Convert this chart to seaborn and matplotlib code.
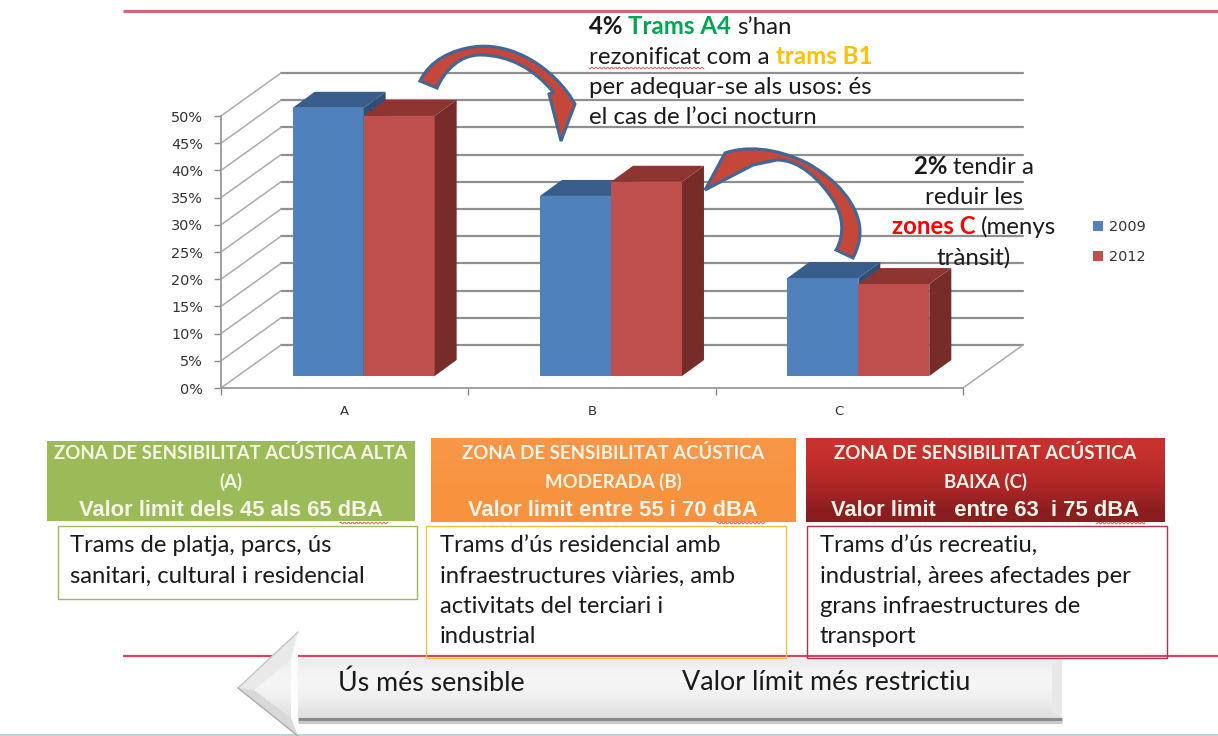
import numpy as np
import pandas as pd
import matplotlib
matplotlib.use('Agg')
import matplotlib.pyplot as plt
import matplotlib.transforms as mtransforms
from matplotlib.patches import Polygon, PathPatch, Rectangle
from matplotlib.path import Path
import seaborn as sns

# dades
zones = ['A', 'B', 'C']
anys = ['2009', '2012']
valors_2009 = [49.3, 33.1, 18.0]
valors_2012 = [47.8, 35.7, 16.9]
ticks_y = [0, 5, 10, 15, 20, 25, 30, 35, 40, 45, 50]

colors_front = ['#4F81BD', '#C0504D']
colors_top = ['#385D8A', '#8E3532']
colors_side = ['#2F4F78', '#772C2A']

W, H = 1218, 736
DPI = 100

sns.set_style('white')
plt.rcParams['font.family'] = ['Lato', 'DejaVu Sans']

fig = plt.figure(figsize=(W / DPI, H / DPI), dpi=DPI, facecolor='white')


def axes_px(x0, y_top, x1, y_bottom):
    return fig.add_axes([x0 / W, 1 - y_bottom / H, (x1 - x0) / W, (y_bottom - y_top) / H])


# =========================
# eixos frontals i parets
# =========================
ax_f = axes_px(221, 116, 963, 388)
ax_f.set_zorder(1)
ax_f.patch.set_alpha(0)
ax_f.set_xlim(-0.5, 2.5)
ax_f.set_ylim(0, 50)
ax_f.set_yticks(ticks_y)
ax_f.set_yticklabels([f'{t}%' for t in ticks_y], family='DejaVu Sans', fontsize=10.4, color='#333333')
ax_f.set_xticks(range(3))
ax_f.set_xticklabels(zones, family='DejaVu Sans', fontsize=9.5, color='#333333')
ax_f.set_xticks([-0.5, 0.5, 1.5, 2.5], minor=True)
ax_f.tick_params(axis='x', which='major', length=0, pad=12)
ax_f.tick_params(axis='x', which='minor', length=5, color='#868686', width=1, bottom=True)
ax_f.tick_params(axis='y', length=5, color='#868686', width=1, left=True, pad=8)
for s in ['top', 'right']:
    ax_f.spines[s].set_visible(False)
for s in ['left', 'bottom']:
    ax_f.spines[s].set_color('#999999')
    ax_f.spines[s].set_linewidth(1.3)

back = mtransforms.offset_copy(ax_f.transData, fig, x=60, y=43, units='dots')
for t in ticks_y:
    ax_f.plot([-0.5, 2.5], [t, t], transform=back, color='#8F8F8F', lw=1.6, clip_on=False)
    # linies de la paret esquerra
    x0, y0 = ax_f.transData.transform((-0.5, t))
    ax_f.plot([x0, x0 + 60], [y0, y0 + 43], transform=mtransforms.IdentityTransform(),
              color='#ABABAB', lw=1.1, clip_on=False)
x0, y0 = ax_f.transData.transform((2.5, 0))
ax_f.plot([x0, x0 + 60], [y0, y0 + 43], transform=mtransforms.IdentityTransform(),
          color='#ABABAB', lw=1.1, clip_on=False)

# =========================
# barres
# =========================
ax = axes_px(240, 104, 982, 376)
ax.set_zorder(2)
ax.patch.set_alpha(0)

df = pd.DataFrame({
    'zona': zones * 2,
    'any': [anys[0]] * 3 + [anys[1]] * 3,
    'valor': valors_2009 + valors_2012,
})
sns.barplot(data=df, x='zona', y='valor', hue='any', palette=colors_front, width=0.574,
            gap=0, saturation=1, linewidth=0, ax=ax)
ax.set_xlim(-0.5, 2.5)
ax.set_ylim(0, 50)
ax.set_xlabel('')
ax.set_ylabel('')
ax.axis('off')

DX, DY = 22, 16
for i, cont in enumerate(ax.containers):
    for bar in cont:
        bar.set_zorder(3 + i)
        (xa, ya), (xb, yb) = ax.transData.transform([(bar.get_x(), 0),
                                                     (bar.get_x() + bar.get_width(), bar.get_height())])
        side = [(xb, ya), (xb + DX, ya + DY), (xb + DX, yb + DY), (xb, yb)]
        top = [(xa, yb), (xa + DX, yb + DY), (xb + DX, yb + DY), (xb, yb)]
        ax.add_patch(Polygon(side, closed=True, fc=colors_side[i], ec='none', clip_on=False,
                             transform=mtransforms.IdentityTransform(), zorder=3 + i))
        ax.add_patch(Polygon(top, closed=True, fc=colors_top[i], ec='none', clip_on=False,
                             transform=mtransforms.IdentityTransform(), zorder=3 + i))

sns.move_legend(ax, loc='upper left', bbox_to_anchor=(1080 / W, 1 - 207 / H),
                bbox_transform=fig.transFigure, frameon=False, title=None,
                handlelength=0.7, handleheight=0.7, handletextpad=0.42, labelspacing=1.1,
                prop={'family': 'DejaVu Sans', 'size': 10.4})
for txt in ax.get_legend().get_texts():
    txt.set_color('#333333')

# =========================
# capa de dibuix en pixels
# =========================
ov = fig.add_axes([0, 0, 1, 1])
ov.set_zorder(3)
ov.patch.set_alpha(0)

# linies roses
ov.plot([123, 1218], [11, 11], color='#DD6079', lw=2.2, solid_capstyle='butt')
ov.plot([123, 1218], [656, 656], color='#E2405F', lw=1.6, solid_capstyle='butt', zorder=1)
ov.plot([0, 1218], [735, 735], color='#BDD3D8', lw=1.5, zorder=1)

# fletxes corbes
M, L, C = Path.MOVETO, Path.LINETO, Path.CURVE4
fl1 = Path(
    [(420, 81), (430, 60), (452, 50), (473, 47),
     (505, 42), (545, 60), (570, 96),
     (575, 104), (561, 141), (549, 94), (553, 92),
     (535, 70), (510, 55), (480, 55),
     (460, 55), (445, 70), (437, 88), (420, 81)],
    [M, C, C, C, C, C, C, L, L, L, L, C, C, C, C, C, C, Path.CLOSEPOLY])
fl2 = Path(
    [(705, 190), (725, 153),
     (745, 146), (775, 147), (807, 163),
     (835, 178), (860, 205), (860, 232),
     (860, 242), (857, 250), (853, 258),
     (836, 250),
     (845, 235), (843, 215), (833, 200),
     (820, 180), (800, 160), (777, 160),
     (753, 165), (705, 190)],
    [M, L, C, C, C, C, C, C, C, C, C, L, C, C, C, C, C, C, L, Path.CLOSEPOLY])
for fl in [fl1, fl2]:
    ov.add_patch(PathPatch(fl, fc='#C4473A', ec='#3F6797', lw=2.2, joinstyle='miter', zorder=5))


def ramp(colors, extent, clip=None, zorder=2):
    vals = np.array([matplotlib.colors.to_rgb(c) for c in colors])[:, None, :]
    im = ov.imshow(vals, extent=extent, aspect='auto', interpolation='bilinear', zorder=zorder)
    if clip is not None:
        im.set_clip_path(clip)
    return im


# capcaleres
ov.add_patch(Rectangle((47, 441), 368, 80, fc='#9BBB59', ec='none', zorder=2))
ramp(['#F79646', '#F8923E'], (431, 796, 522, 438))
ramp(['#C8322E', '#BC2C2A', '#A82526', '#8A1E20'], (806, 1165, 522, 438))

capcaleres = [
    (231, ['ZONA DE SENSIBILITAT ACÚSTICA ALTA', '(A)', 'Valor limit dels 45 als 65 dBA']),
    (613, ['ZONA DE SENSIBILITAT ACÚSTICA', 'MODERADA (B)', 'Valor limit entre 55 i 70 dBA']),
    (985, ['ZONA DE SENSIBILITAT ACÚSTICA', 'BAIXA (C)', 'Valor limit   entre 63  i 75 dBA']),
]
for xc, (l1, l2, l3) in capcaleres:
    col = '#F7F5EA'
    ov.text(xc, 453, l1, ha='center', va='center', color=col, fontsize=13.4, fontweight='bold', zorder=6)
    ov.text(xc, 482, l2, ha='center', va='center', color=col, fontsize=13.4, fontweight='bold', zorder=6)
    ov.text(xc, 511, l3, ha='center', va='center', color=col, fontsize=15.8, fontweight='bold',
            family='Liberation Sans', zorder=6)

# caixes de text
ov.add_patch(Rectangle((58, 526), 359, 73, fc='none', ec='#9BBB59', lw=1.0, zorder=2))
ov.add_patch(Rectangle((426, 526), 360, 132, fc='none', ec='#EFC33C', lw=1.0, zorder=2))
ov.add_patch(Rectangle((807, 526), 360, 132, fc='none', ec='#B5304B', lw=1.0, zorder=3))

cos = [
    (70, ['Trams de platja, parcs, ús', 'sanitari, cultural i residencial']),
    (440, ['Trams d’ús residencial amb', 'infraestructures viàries, amb', 'activitats del terciari i', 'industrial']),
    (820, ['Trams d’ús recreatiu,', 'industrial, àrees afectades per', 'grans infraestructures de', 'transport']),
]
for xt, linies in cos:
    for k, lin in enumerate(linies):
        ov.text(xt, 546 + 30.3 * k, lin, ha='left', va='center', color='#1A1A1A', fontsize=17.2, zorder=6)

# fletxa gran
forma = [(238, 688), (298, 632), (298, 659), (1062, 659), (1062, 718), (298, 718), (298, 736)]
for_fl = Polygon(forma, closed=True, fc='none', ec='none', transform=ov.transData, zorder=1)
ov.add_patch(for_fl)
ramp(['#E4E4E4', '#E8E8E8', '#F2F2F2', '#F6F6F6', '#EFEFEF', '#E2E2E2', '#D4D4D4'], (230, 1065, 736, 632),
     clip=for_fl, zorder=1.5)
ov.add_patch(Polygon([(1052, 665), (1062, 659), (1062, 718), (1052, 712)], closed=True,
                     fc='#E8E8E8', ec='none', zorder=1.6))
# biaix del cap de la fletxa
ov.add_patch(Polygon([(238, 688), (298, 632), (298, 659), (291, 659), (254, 690)], closed=True,
                     fc='#E9E9E9', ec='none', zorder=1.6))
ov.add_patch(Polygon([(238, 688), (298, 736), (298, 722), (291, 718), (254, 690)], closed=True,
                     fc='#D9D9D9', ec='none', zorder=1.6))
ov.add_patch(Polygon([(291, 659), (298, 632), (298, 736), (291, 718)], closed=True,
                     fc='#FCFCFC', ec='none', zorder=1.6))
ov.plot([238, 298], [688, 632], color='#C4C4C4', lw=1.0, zorder=1.7)
ov.plot([238, 298], [688, 736], color='#ABABAB', lw=1.0, zorder=1.7)
ov.plot([298, 1062], [719, 719], color='#8A8A8A', lw=2.2, zorder=1.7, solid_capstyle='butt')
ov.plot([298, 1062], [722, 722], color='#C8C8C8', lw=2.2, zorder=1.7, solid_capstyle='butt')
ov.text(338, 683, 'Ús més sensible', ha='left', va='center', color='#1A1A1A', fontsize=19.3, zorder=6)
ov.text(682, 683, 'Valor límit més restrictiu', ha='left', va='center', color='#1A1A1A', fontsize=19.4, zorder=6)

ov.set_xlim(0, W)
ov.set_ylim(H, 0)
ov.axis('off')

# text amb colors
rend = fig.canvas.get_renderer()


def text_colors(x, y, trossos, centrat=False, mida=17.3):
    arts = [ov.text(0, y, t, color=c, fontweight=w, fontsize=mida, va='center', ha='left', zorder=6)
            for t, c, w in trossos]
    ample = [a.get_window_extent(rend).width for a in arts]
    px = x - sum(ample) / 2 if centrat else x
    for a, w in zip(arts, ample):
        a.set_x(px)
        px += w


NEGRE = '#1A1A1A'
text_colors(589, 27, [('4% ', NEGRE, 'bold'), ('Trams A4 ', '#00A650', 'bold'), ('s’han', NEGRE, 'normal')])
text_colors(589, 57, [('rezonificat com a ', NEGRE, 'normal'), ('trams B1', '#FFC000', 'bold')])
text_colors(589, 87, [('per adequar-se als usos: és', NEGRE, 'normal')])
text_colors(589, 117, [('el cas de l’oci nocturn', NEGRE, 'normal')])
text_colors(974, 167, [('2% ', NEGRE, 'bold'), ('tendir a', NEGRE, 'normal')], centrat=True)
text_colors(974, 197, [('reduir les', NEGRE, 'normal')], centrat=True)
text_colors(974, 227, [('zones C ', '#FF0000', 'bold'), ('(menys', NEGRE, 'normal')], centrat=True)
text_colors(974, 258, [('trànsit)', NEGRE, 'normal')], centrat=True)

# subratllats de corrector
for xa, xb, yy in [(589, 704, 68), (340, 388, 523), (717, 765, 523), (1096, 1145, 523)]:
    xs = np.arange(xa, xb + 1, 1.0)
    ov.plot(xs, yy + 1.0 * np.sin(xs * 1.6), color='#E06060', lw=0.7, zorder=7)

fig.savefig('out.png', dpi=DPI)
